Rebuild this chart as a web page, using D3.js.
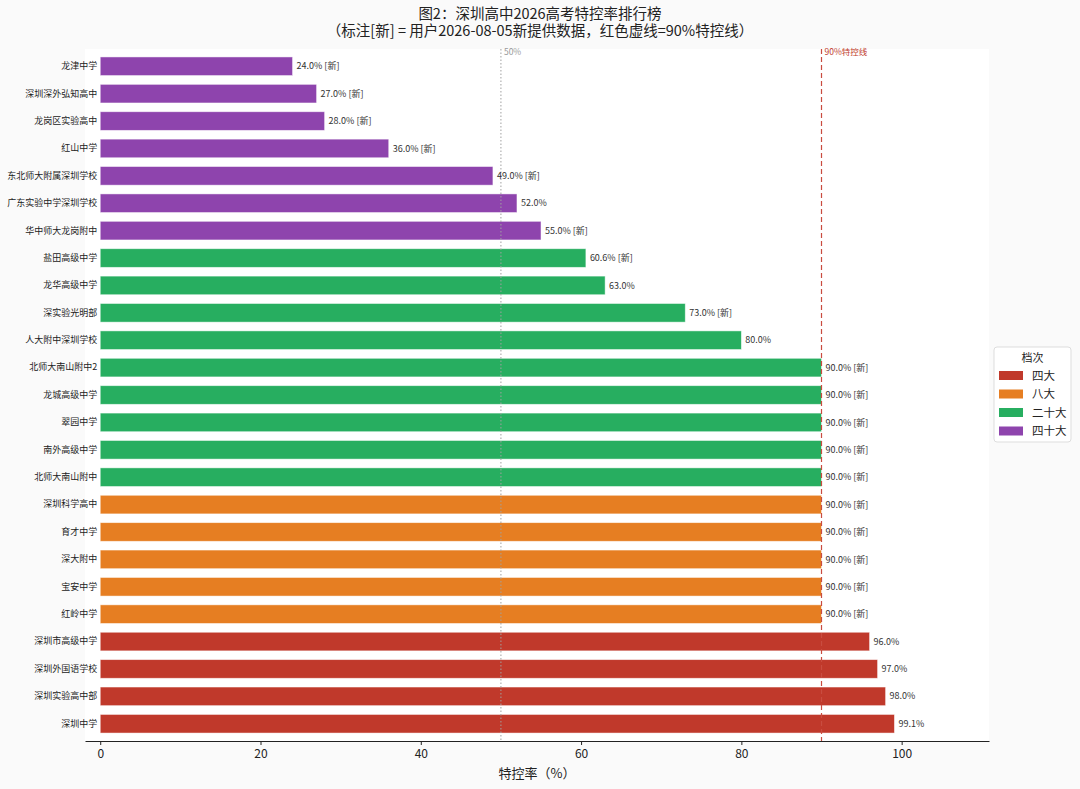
<!DOCTYPE html>
<meta charset="utf-8">
<script src="https://d3js.org/d3.v7.min.js"></script>
<style>
  body { margin: 0; background: #fafafa; }
  text { font-family: "Noto Sans CJK SC", "Noto Sans", sans-serif; }
</style>
<div id="chart"></div>
<script>

// data, top to bottom as in the picture
let schools = ["龙津中学", "深圳深外弘知高中", "龙岗区实验高中", "红山中学", "东北师大附属深圳学校",
  "广东实验中学深圳学校", "华中师大龙岗附中", "盐田高级中学", "龙华高级中学", "深实验光明部",
  "人大附中深圳学校", "北师大南山附中2", "龙城高级中学", "翠园中学", "南外高级中学",
  "北师大南山附中", "深圳科学高中", "育才中学", "深大附中", "宝安中学", "红岭中学",
  "深圳市高级中学", "深圳外国语学校", "深圳实验高中部", "深圳中学"];
let rates = [24.0, 27.0, 28.0, 36.0, 49.0, 52.0, 55.0, 60.6, 63.0, 73.0, 80.0,
  90.0, 90.0, 90.0, 90.0, 90.0, 90.0, 90.0, 90.0, 90.0, 90.0, 96.0, 97.0, 98.0, 99.1];
let isNew = [1, 1, 1, 1, 1, 0, 1, 1, 0, 1, 0, 1, 1, 1, 1, 1, 1, 1, 1, 1, 1, 0, 0, 0, 0];
let tiers = ["四十大", "四十大", "四十大", "四十大", "四十大", "四十大", "四十大",
  "二十大", "二十大", "二十大", "二十大", "二十大", "二十大", "二十大", "二十大", "二十大",
  "八大", "八大", "八大", "八大", "八大", "四大", "四大", "四大", "四大"];
let tierNames = ["四大", "八大", "二十大", "四十大"];
let tierColors = ["#c0392b", "#e67e22", "#27ae60", "#8e44ad"];
let xTicks = [0, 20, 40, 60, 80, 100];
let refLines = [50, 90];

let W = 1080, H = 789;
let margin = {top: 49, right: 91, bottom: 48, left: 85};

let svg = d3.select("#chart").append("svg")
    .attr("width", W)
    .attr("height", H);

svg.append("rect")
    .attr("width", W).attr("height", H)
    .attr("fill", "#fafafa");

// plot area
svg.append("rect")
    .attr("x", margin.left).attr("y", margin.top)
    .attr("width", W - margin.left - margin.right)
    .attr("height", H - margin.top - margin.bottom)
    .attr("fill", "#ffffff");

let x = d3.scaleLinear()
    .domain([-1.9, 110.9])
    .range([margin.left, W - margin.right]);

let y = d3.scaleBand()
    .domain(schools)
    .range([margin.top, H - margin.bottom])
    .paddingInner(0.32)
    .paddingOuter(0.29);

let color = d3.scaleOrdinal().domain(tierNames).range(tierColors);

let rows = schools.map(function(d, i) {
  return {name: d, value: rates[i], isNew: isNew[i], tier: tiers[i]};
});

// bars
svg.append("g").selectAll("rect")
  .data(rows)
  .enter()
  .append("rect")
    .attr("x", x(0))
    .attr("y", function(d) { return y(d.name); })
    .attr("width", function(d) { return x(d.value) - x(0); })
    .attr("height", y.bandwidth())
    .attr("fill", function(d) { return color(d.tier); })
    .attr("stroke", "#ffffff")
    .attr("stroke-opacity", 0.6)
    .attr("stroke-width", 0.8);

// reference lines
svg.append("line")
    .attr("x1", x(refLines[0])).attr("x2", x(refLines[0]))
    .attr("y1", margin.top).attr("y2", H - margin.bottom)
    .attr("stroke", "#a0a0a0")
    .attr("stroke-width", 1)
    .attr("stroke-dasharray", "1.5,2");
svg.append("line")
    .attr("x1", x(refLines[1])).attr("x2", x(refLines[1]))
    .attr("y1", margin.top).attr("y2", H - margin.bottom)
    .attr("stroke", "#c94c40")
    .attr("stroke-width", 1.2)
    .attr("stroke-dasharray", "5,3");
svg.append("text")
    .attr("x", x(refLines[0]) + 3).attr("y", margin.top + 6)
    .attr("font-size", 8.5)
    .attr("fill", "#999999")
    .text(refLines[0] + "%");
svg.append("text")
    .attr("x", x(refLines[1]) + 3).attr("y", margin.top + 6)
    .attr("font-size", 8.5)
    .attr("fill", "#c0392b")
    .text(refLines[1] + "%特控线");

// value labels
svg.append("g").selectAll("text")
  .data(rows)
  .enter()
  .append("text")
    .attr("x", function(d) { return x(d.value) + 4; })
    .attr("y", function(d) { return y(d.name) + y.bandwidth() / 2; })
    .attr("dy", "0.35em")
    .attr("font-size", 9)
    .attr("fill", "#333333")
    .text(function(d) { return d.value.toFixed(1) + "%" + (d.isNew ? " [新]" : ""); });

// y axis (labels only)
let yAxis = svg.append("g")
    .attr("transform", "translate(" + x(0) + ",0)")
    .call(d3.axisLeft(y).tickSize(0).tickPadding(3));
yAxis.select(".domain").remove();
yAxis.selectAll("text")
    .attr("font-size", 9)
    .attr("fill", "#222222");

// x axis
let xAxis = svg.append("g")
    .attr("transform", "translate(0," + (H - margin.bottom) + ")")
    .call(d3.axisBottom(x).tickValues(xTicks).tickSize(4).tickPadding(4).tickSizeOuter(0));
xAxis.select(".domain").attr("stroke", "#222222").attr("stroke-width", 1.2);
xAxis.selectAll(".tick line").attr("stroke", "#222222");
xAxis.selectAll("text")
    .attr("font-size", 12)
    .attr("fill", "#222222");

svg.append("text")
    .attr("x", (margin.left + W - margin.right) / 2)
    .attr("y", 778)
    .attr("text-anchor", "middle")
    .attr("font-size", 13)
    .attr("fill", "#222222")
    .text("特控率（%）");

// title
svg.append("text")
    .attr("x", W / 2).attr("y", 19)
    .attr("text-anchor", "middle")
    .attr("font-size", 14.5)
    .attr("fill", "#222222")
    .text("图2：深圳高中2026高考特控率排行榜");
svg.append("text")
    .attr("x", W / 2).attr("y", 36)
    .attr("text-anchor", "middle")
    .attr("font-size", 14.5)
    .attr("fill", "#222222")
    .text("（标注[新] = 用户2026-08-05新提供数据，红色虚线=90%特控线）");

// legend
let lg = svg.append("g").attr("transform", "translate(994,347)");
lg.append("rect")
    .attr("width", 77).attr("height", 95)
    .attr("rx", 3)
    .attr("fill", "#ffffff")
    .attr("stroke", "#dddddd");
lg.append("text")
    .attr("x", 38.5).attr("y", 15)
    .attr("text-anchor", "middle")
    .attr("font-size", 11)
    .attr("fill", "#222222")
    .text("档次");
tierNames.forEach(function(t, i) {
  lg.append("rect")
      .attr("x", 5).attr("y", 24 + i * 18.5)
      .attr("width", 24).attr("height", 9)
      .attr("fill", tierColors[i]);
  lg.append("text")
      .attr("x", 38).attr("y", 28.5 + i * 18.5)
      .attr("dy", "0.35em")
      .attr("font-size", 11.5)
      .attr("fill", "#222222")
      .text(t);
});

</script>
